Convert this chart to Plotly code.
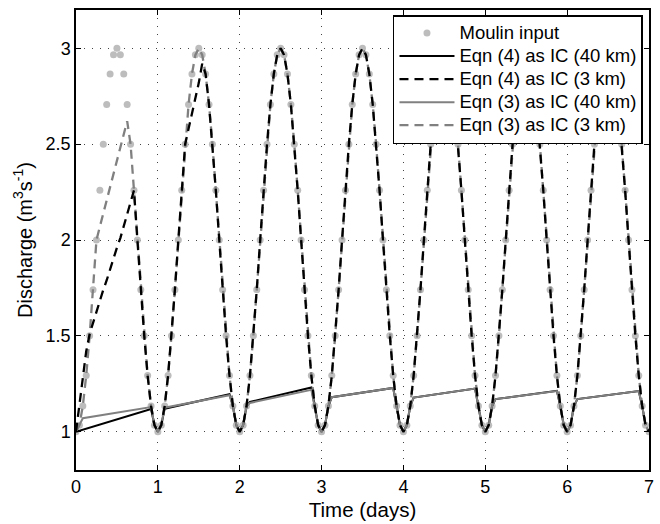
import plotly.graph_objects as go

# ---- data ----
# sample times in hours (hourly samples over 7 days)
hours = list(range(169))

# Moulin input discharge (m^3/s), hourly
moulin = [
    1.000, 1.034, 1.134, 1.293, 1.500, 1.741, 2.000, 2.259, 2.500, 2.707, 2.866, 2.966,
    3.000, 2.966, 2.866, 2.707, 2.500, 2.259, 2.000, 1.741, 1.500, 1.293, 1.134, 1.034,
    1.000, 1.034, 1.134, 1.293, 1.500, 1.741, 2.000, 2.259, 2.500, 2.707, 2.866, 2.966,
    3.000, 2.966, 2.866, 2.707, 2.500, 2.259, 2.000, 1.741, 1.500, 1.293, 1.134, 1.034,
    1.000, 1.034, 1.134, 1.293, 1.500, 1.741, 2.000, 2.259, 2.500, 2.707, 2.866, 2.966,
    3.000, 2.966, 2.866, 2.707, 2.500, 2.259, 2.000, 1.741, 1.500, 1.293, 1.134, 1.034,
    1.000, 1.034, 1.134, 1.293, 1.500, 1.741, 2.000, 2.259, 2.500, 2.707, 2.866, 2.966,
    3.000, 2.966, 2.866, 2.707, 2.500, 2.259, 2.000, 1.741, 1.500, 1.293, 1.134, 1.034,
    1.000, 1.034, 1.134, 1.293, 1.500, 1.741, 2.000, 2.259, 2.500, 2.707, 2.866, 2.966,
    3.000, 2.966, 2.866, 2.707, 2.500, 2.259, 2.000, 1.741, 1.500, 1.293, 1.134, 1.034,
    1.000, 1.034, 1.134, 1.293, 1.500, 1.741, 2.000, 2.259, 2.500, 2.707, 2.866, 2.966,
    3.000, 2.966, 2.866, 2.707, 2.500, 2.259, 2.000, 1.741, 1.500, 1.293, 1.134, 1.034,
    1.000, 1.034, 1.134, 1.293, 1.500, 1.741, 2.000, 2.259, 2.500, 2.707, 2.866, 2.966,
    3.000, 2.966, 2.866, 2.707, 2.500, 2.259, 2.000, 1.741, 1.500, 1.293, 1.134, 1.034,
    1.000,
]

# Eqn (4) as IC (40 km): vertices (hour, discharge)
eq4_40_hours = [0, 22, 23, 24, 25, 26, 45, 46, 47, 48, 49, 50, 51,
                69, 70, 71, 72, 73, 74, 75, 93, 94, 95, 96, 97, 98, 99,
                117, 118, 119, 120, 121, 122, 123, 141, 142, 143, 144, 145, 146, 147,
                165, 166, 167]
eq4_40_vals = [1.000, 1.118, 1.034, 1.000, 1.034, 1.120, 1.195, 1.134, 1.034, 1.000, 1.034, 1.134, 1.155,
               1.230, 1.134, 1.034, 1.000, 1.034, 1.134, 1.180, 1.228, 1.134, 1.034, 1.000, 1.034, 1.134, 1.178,
               1.225, 1.134, 1.034, 1.000, 1.034, 1.134, 1.170, 1.213, 1.134, 1.034, 1.000, 1.034, 1.134, 1.170,
               1.212, 1.134, 1.034]

# Eqn (3) as IC (40 km)
eq3_40_hours = [0, 2, 22, 23, 24, 25, 26, 45, 46, 47, 48, 49, 50, 51,
                69, 70, 71, 72, 73, 74, 75, 93, 94, 95, 96, 97, 98, 99,
                117, 118, 119, 120, 121, 122, 123, 141, 142, 143, 144, 145, 146, 147,
                165, 166, 167]
eq3_40_vals = [1.000, 1.070, 1.128, 1.034, 1.000, 1.034, 1.125, 1.190, 1.134, 1.034, 1.000, 1.034, 1.134, 1.150,
               1.218, 1.134, 1.034, 1.000, 1.034, 1.134, 1.180, 1.228, 1.134, 1.034, 1.000, 1.034, 1.134, 1.178,
               1.225, 1.134, 1.034, 1.000, 1.034, 1.134, 1.170, 1.212, 1.134, 1.034, 1.000, 1.034, 1.134, 1.170,
               1.212, 1.134, 1.034]

# Eqn (4) as IC (3 km): hourly; departs from the input in the first 1.6 days
eq4_3_start = [1.00, 1.15, 1.29, 1.42, 1.51, 1.57, 1.63, 1.68, 1.74, 1.79, 1.85, 1.90,
               1.96, 2.01, 2.07, 2.13, 2.19]                 # hours 0-16
eq4_3_lag = [2.58, 2.66, 2.74, 2.82, 2.92]                    # hours 33-37
eq4_3 = eq4_3_start + moulin[17:33] + eq4_3_lag + moulin[38:]

# Eqn (3) as IC (3 km): hourly
eq3_3_start = [1.000, 1.034, 1.134, 1.293, 1.500, 1.741, 2.000, 2.07, 2.14, 2.21,
               2.28, 2.35, 2.42, 2.48, 2.55, 2.62]            # hours 0-15
eq3_3 = eq3_3_start + moulin[16:]

# tick labels
x_ticks = [0, 1, 2, 3, 4, 5, 6, 7]
y_ticks = [1, 1.5, 2, 2.5, 3]
y_ticktext = ["1", "1.5", "2", "2.5", "3"]

def days(h):
    return [v / 24.0 for v in h]

def legend_name(s):
    return '<span style="font-size:18.5px">' + s + '</span>'

FONT = "Liberation Sans, Arial, Helvetica, sans-serif"
GREY_LINE = "#808080"
GREY_DOT = "#bdbdbd"
DASH = "9px,6px"

fig = go.Figure()
fig.add_trace(go.Scatter(x=days(hours), y=moulin, mode="markers", name=legend_name("Moulin input"),
                         legendrank=1, marker=dict(color=GREY_DOT, size=7)))
fig.add_trace(go.Scatter(x=days(eq4_40_hours), y=eq4_40_vals, mode="lines", legendrank=2,
                         name=legend_name("Eqn (4) as IC (40 km)"), line=dict(color="black", width=2)))
fig.add_trace(go.Scatter(x=days(eq3_40_hours), y=eq3_40_vals, mode="lines", legendrank=4,
                         name=legend_name("Eqn (3) as IC (40 km)"), line=dict(color=GREY_LINE, width=2)))
fig.add_trace(go.Scatter(x=days(hours), y=eq3_3, mode="lines", legendrank=5,
                         name=legend_name("Eqn (3) as IC (3 km)"),
                         line=dict(color=GREY_LINE, width=2.3, dash=DASH)))
fig.add_trace(go.Scatter(x=days(hours), y=eq4_3, mode="lines", legendrank=3,
                         name=legend_name("Eqn (4) as IC (3 km)"),
                         line=dict(color="black", width=2.3, dash=DASH)))

axis_common = dict(showline=True, linecolor="black", linewidth=1.5, mirror="ticks",
                   ticks="inside", ticklen=5, tickcolor="black", tickwidth=1,
                   showgrid=True, gridcolor="#444444", gridwidth=1, griddash="1px,7px",
                   zeroline=False, automargin=False,
                   tickfont=dict(family=FONT, size=18, color="black"))

fig.update_xaxes(range=[0, 7], tickvals=x_ticks,
                 title=dict(text="Time (days)", font=dict(family=FONT, size=20.5, color="black"), standoff=6),
                 **axis_common)
fig.update_yaxes(range=[0.8, 3.2], tickvals=y_ticks, ticktext=y_ticktext,
                 title=dict(text="Discharge (m<sup>3</sup>s<sup>-1</sup>)",
                            font=dict(family=FONT, size=20, color="black"), standoff=8),
                 **axis_common)

fig.update_layout(
    width=660, height=524,
    margin=dict(l=76, r=11, t=10, b=54),
    plot_bgcolor="white", paper_bgcolor="white",
    font=dict(family=FONT, color="black"),
    legend=dict(x=0.9895, y=0.989, xanchor="right", yanchor="top",
                bgcolor="white", bordercolor="black", borderwidth=1.5,
                font=dict(family=FONT, size=15.4, color="black"),
                itemwidth=55, tracegroupgap=0, traceorder="normal"),
    showlegend=True,
)

fig.write_html("out.html", config={"displayModeBar": False},
               post_script="document.body.style.margin='0px';")
